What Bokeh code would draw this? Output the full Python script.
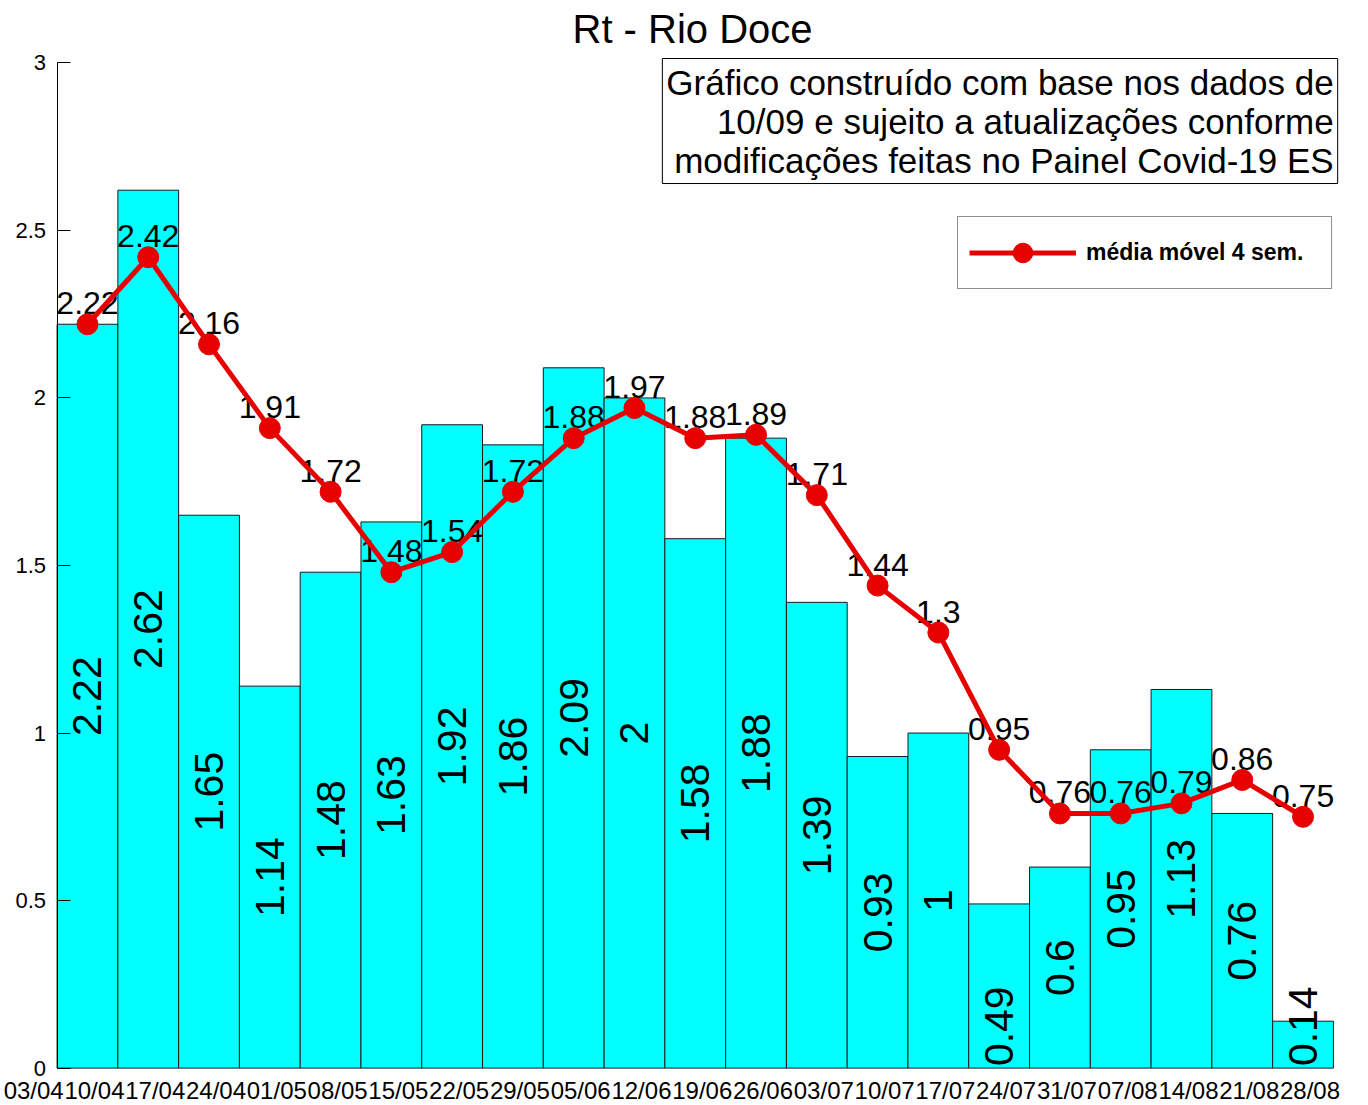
import math
from bokeh.plotting import figure
from bokeh.models import (Range1d, FixedTicker, Label, Legend, LegendItem)
from bokeh.core.properties import value
from bokeh.embed import file_html
from bokeh.resources import INLINE

title_text = "Rt - Rio Doce"
note_text = ("Gráfico construído com base nos dados de\n"
             "10/09 e sujeito a atualizações conforme\n"
             "modificações feitas no Painel Covid-19 ES")
legend_text = "média móvel 4 sem."

dates = ["03/04", "10/04", "17/04", "24/04", "01/05", "08/05", "15/05", "22/05",
         "29/05", "05/06", "12/06", "19/06", "26/06", "03/07", "10/07", "17/07",
         "24/07", "31/07", "07/08", "14/08", "21/08", "28/08"]
rt = [2.22, 2.62, 1.65, 1.14, 1.48, 1.63, 1.92, 1.86, 2.09, 2, 1.58, 1.88,
      1.39, 0.93, 1, 0.49, 0.6, 0.95, 1.13, 0.76, 0.14]
mm4 = [2.22, 2.42, 2.16, 1.91, 1.72, 1.48, 1.54, 1.72, 1.88, 1.97, 1.88, 1.89,
       1.71, 1.44, 1.3, 0.95, 0.76, 0.76, 0.79, 0.86, 0.75]
y_ticks = [0, 0.5, 1, 1.5, 2, 2.5, 3]

FONT = "Liberation Sans"
RED = "#E60000"
n = len(rt)
xc = [i + 0.5 for i in range(n)]
LAB_SHIFT = -0.385  # date labels sit slightly left of the bar boundaries

p = figure(frame_width=1328, frame_height=1022, output_backend="svg",
           toolbar_location=None,
           x_range=Range1d(-0.75, n + 0.1), y_range=Range1d(-0.025, 3.025),
           min_border_left=11, min_border_right=21, min_border_top=54,
           min_border_bottom=24)
p.outline_line_color = None
p.grid.visible = False
p.background_fill_color = "white"

# title
p.title.text = title_text
p.title.align = "left"
p.title.offset = 561
p.title.standoff = 8
p.title.text_font = FONT
p.title.text_font_size = "40px"
p.title.text_font_style = "normal"
p.title.text_color = "black"

# y axis: drawn at x = 0 (the left edge of the first bar)
ya = p.yaxis[0]
ya.fixed_location = 0
ya.bounds = (0, 3)
ya.ticker = FixedTicker(ticks=y_ticks)
ya.major_label_overrides = {t: "" for t in y_ticks}
ya.major_tick_in = 13
ya.major_tick_out = 0
ya.minor_tick_line_color = None
ya.major_label_standoff = 0
ya.axis_line_color = "black"
ya.major_tick_line_color = "black"
p.text(x=[0] * len(y_ticks), y=y_ticks, text=[f"{t:g}" for t in y_ticks],
       x_offset=-11, text_align="right", text_baseline="middle",
       text_font=value(FONT), text_font_size="22px", text_color="black")

# x axis: date labels at (shifted) bar boundaries
xt = [i + LAB_SHIFT for i in range(len(dates))]
xa = p.xaxis[0]
xa.ticker = FixedTicker(ticks=xt)
xa.major_label_overrides = {t: d for t, d in zip(xt, dates)}
xa.axis_line_color = None
xa.major_tick_line_color = None
xa.minor_tick_line_color = None
xa.major_tick_in = 0
xa.major_tick_out = 0
xa.major_label_standoff = 0
xa.major_label_text_font = FONT
xa.major_label_text_font_size = "24px"
xa.major_label_text_color = "black"

# bars
p.vbar(x=xc, top=rt, width=1, bottom=0, fill_color="#00FFFF",
       line_color="#1a1a1a", line_width=1)

# bar value labels (rotated)
big = [(x, v) for x, v in zip(xc, rt) if v >= 0.5]
small = [(x, v) for x, v in zip(xc, rt) if v < 0.5]
p.text(x=[b[0] for b in big], y=[b[1] / 2 for b in big],
       text=[f"{b[1]:g}" for b in big], angle=math.pi / 2,
       text_align="center", text_baseline="middle",
       text_font=value(FONT), text_font_size="41px", text_color="black")
p.text(x=[b[0] for b in small], y=[0 for b in small],
       text=[f"{b[1]:g}" for b in small], angle=math.pi / 2,
       text_align="left", text_baseline="middle", y_offset=-2,
       text_font=value(FONT), text_font_size="41px", text_color="black")

# moving average labels, then the line drawn over them
p.text(x=xc, y=mm4, text=[f"{v:g}" for v in mm4], text_align="center",
       text_baseline="middle", y_offset=-21,
       text_font=value(FONT), text_font_size="32px", text_color="black")
r_line = p.line(x=xc, y=mm4, line_color=RED, line_width=5)
r_pts = p.scatter(x=xc, y=mm4, size=21, fill_color=RED, line_color=RED)

# note box
p.add_layout(Label(x=n + 0.07, y=3.013, text=note_text, text_align="right",
                   text_baseline="top", text_font=FONT, text_font_size="35px",
                   text_color="black", text_line_height=1.0,
                   background_fill_color="white", border_line_color="black",
                   border_line_width=1, padding=4))

# legend
leg = Legend(items=[LegendItem(label=legend_text, renderers=[r_line, r_pts])],
             location=(946, 787), orientation="vertical",
             border_line_color="#222222", border_line_width=1,
             background_fill_color="white", background_fill_alpha=1,
             padding=11, glyph_width=107, glyph_height=49, label_height=49,
             label_width=234, label_standoff=10, margin=0,
             label_text_font=FONT, label_text_font_size="23px",
             label_text_font_style="bold", label_text_color="black")
p.add_layout(leg, "center")

open("out.html", "w").write(file_html(p, INLINE))
